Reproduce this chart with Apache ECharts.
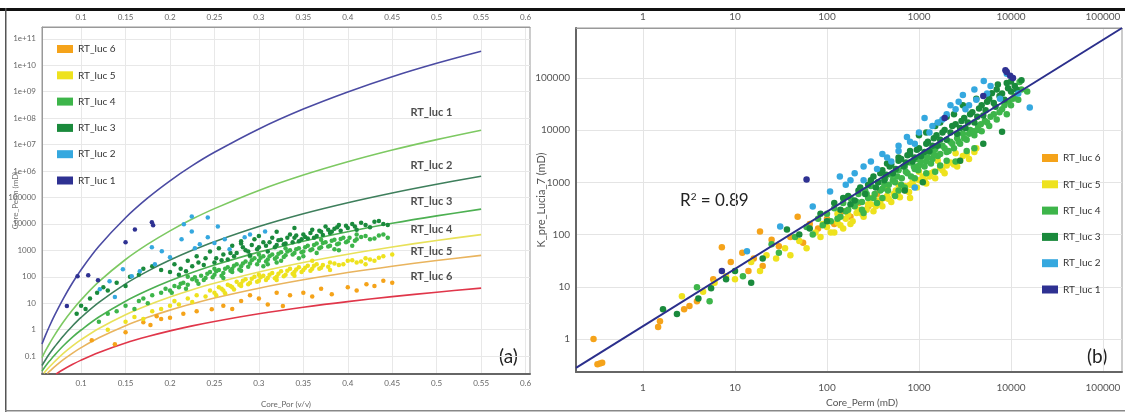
<!DOCTYPE html>
<html><head><meta charset="utf-8">
<script src="https://cdn.jsdelivr.net/npm/echarts@6/dist/echarts.min.js"></script>
<style>html,body{margin:0;padding:0;background:#fff}#c{width:1125px;height:413px}</style>
</head><body><div id="c"></div>
<script>
// ---------- Panel (a): Lucia RFN curves (porosity v/v, permeability mD) ----------
const rf05 = [[0.056,0.285],[0.06,0.62],[0.065,1.5],[0.07,3.4],[0.08,15],[0.09,57],[0.1,185],[0.12,1420],[0.15,17100],[0.175,96000],[0.2,4.26e5],[0.225,1.59e6],[0.25,5.1e6],[0.3,3.9e7],[0.35,2.2e8],[0.4,9.8e8],[0.45,3.7e9],[0.5,1.19e10],[0.55,3.4e10]];
const rf1 = [[0.056,0.088],[0.06,0.16],[0.065,0.32],[0.07,0.61],[0.08,1.94],[0.09,5.4],[0.1,13.4],[0.12,65],[0.15,450],[0.175,1710],[0.2,5460],[0.225,15200],[0.25,37800],[0.3,1.84e5],[0.35,7.0e5],[0.4,2.23e6],[0.45,6.2e6],[0.5,1.54e7],[0.55,3.5e7]];
const rf15 = [[0.056,0.044],[0.06,0.073],[0.065,0.13],[0.07,0.22],[0.08,0.58],[0.09,1.35],[0.1,2.9],[0.12,10.7],[0.15,54],[0.175,163],[0.2,427],[0.225,1000],[0.25,2130],[0.3,7940],[0.35,24200],[0.4,63200],[0.45,1.48e5],[0.5,3.16e5],[0.55,6.3e5]];
const rf2 = [[0.056,0.027],[0.06,0.042],[0.065,0.068],[0.07,0.107],[0.08,0.245],[0.09,0.51],[0.1,0.97],[0.12,3.0],[0.15,11.9],[0.175,30.7],[0.2,70],[0.225,145],[0.25,278],[0.3,855],[0.35,2220],[0.4,5060],[0.45,10500],[0.5,20100],[0.55,36100]];
const rf25 = [[0.058,0.0224],[0.06,0.027],[0.065,0.041],[0.07,0.061],[0.08,0.126],[0.09,0.237],[0.1,0.417],[0.12,1.11],[0.15,3.67],[0.175,8.4],[0.2,17.2],[0.225,32.4],[0.25,57],[0.3,152],[0.35,348],[0.4,713],[0.45,1340],[0.5,2360],[0.55,3940]];
const rf3 = [[0.062,0.022],[0.065,0.0274],[0.07,0.039],[0.08,0.073],[0.09,0.127],[0.1,0.209],[0.12,0.493],[0.15,1.41],[0.175,2.92],[0.2,5.48],[0.225,9.5],[0.25,15.7],[0.3,37],[0.35,76.6],[0.4,144],[0.45,251],[0.5,411],[0.55,645]];
const rf4 = [[0.072,0.021],[0.08,0.031],[0.09,0.0477],[0.1,0.0703],[0.12,0.137],[0.15,0.312],[0.175,0.55],[0.2,0.9],[0.225,1.39],[0.25,2.04],[0.3,3.99],[0.35,7.03],[0.4,11.5],[0.45,17.7],[0.5,26.1],[0.55,37.1]];
const curveNames = ['RF = 0.5','RF = 1','RF = 1.5','RF = 2','RF = 2.5','RF = 3','RF = 4'];

// Core samples, panel (a): [Core_Por, Core_Perm]
const a_rt1 = [[0.084,7.8],[0.096,105],[0.108,115],[0.119,74],[0.15,2000],[0.1605,6200],[0.1796,11500],[0.181,8800]];
const a_rt2 = [[0.2245,19200],[0.2425,17600],[0.2156,9600],[0.2245,5200],[0.2538,8000],[0.2425,3100],[0.1796,1300],[0.1908,920],[0.147,192],[0.157,105],[0.183,300],[0.121,34],[0.132,68],[0.2616,2600],[0.284,3100],[0.267,1090],[0.2335,1680],[0.2,545],[0.138,17],[0.166,160],[0.29,4000],[0.307,5200],[0.213,2600],[0.228,1200],[0.25,1900]];
const a_rt3 = [[0.095,4],[0.1,8],[0.105,6],[0.11,15],[0.118,25],[0.125,40],[0.13,30],[0.14,60],[0.15,45],[0.155,100],[0.165,120],[0.17,200],[0.18,250],[0.19,180],[0.2,150],[0.205,300],[0.21,120],[0.22,400],[0.225,250],[0.23,600],[0.24,500],[0.245,900],[0.25,350],[0.255,1200],[0.26,700],[0.265,450],[0.27,1500],[0.275,800],[0.28,2200],[0.285,1000],[0.29,650],[0.295,2600],[0.3,1300],[0.305,2000],[0.31,900],[0.315,3000],[0.32,1600],[0.325,2500],[0.33,1800],[0.335,4000],[0.34,3000],[0.345,2200],[0.35,4000],[0.355,2800],[0.36,6000],[0.365,3500],[0.37,5000],[0.375,8000],[0.38,4500],[0.385,6500],[0.39,9000],[0.4,7000],[0.405,10000],[0.41,6000],[0.42,9000],[0.43,12000],[0.44,10000],
  [0.212,200],[0.218,160],[0.232,350],[0.238,280],[0.252,500],[0.258,420],[0.268,800],[0.272,600],[0.282,1300],[0.288,900],[0.292,1600],[0.298,1100],[0.308,1500],[0.312,2000],[0.318,1300],[0.322,2400],[0.328,1700],[0.332,3000],[0.338,2000],[0.342,3600],[0.348,2600],[0.352,3200],[0.358,4500],[0.362,3000],[0.368,5500],[0.372,3800],[0.378,6000],[0.382,5000],[0.388,7500],[0.392,5500],[0.398,8500],[0.408,8000],[0.415,11000],[0.425,7500],[0.435,13000],[0.445,9000],[0.32,5000],[0.3,3500],[0.28,1800],[0.34,7000]];
const a_rt4 = [[0.12,2],[0.13,4],[0.14,5],[0.15,8],[0.16,6],[0.165,12],[0.17,15],[0.175,10],[0.18,20],[0.19,25],[0.195,35],[0.2,30],[0.205,45],[0.21,40],[0.215,60],[0.22,50],[0.225,80],[0.23,70],[0.235,110],[0.24,90],[0.245,150],[0.25,120],[0.255,180],[0.26,140],[0.265,230],[0.27,200],[0.275,300],[0.28,250],[0.285,380],[0.29,320],[0.295,500],[0.3,400],[0.305,600],[0.31,450],[0.315,700],[0.32,550],[0.325,850],[0.33,650],[0.335,1000],[0.34,800],[0.345,1200],[0.35,900],[0.355,1500],[0.36,1100],[0.365,1800],[0.37,1300],[0.375,2000],[0.38,1500],[0.385,2500],[0.39,1800],[0.395,3000],[0.4,2200],[0.41,2600],[0.42,3500],[0.43,2800],[0.44,4000],[0.22,100],[0.25,200],[0.27,150],[0.29,600],[0.31,300],[0.33,1200],[0.35,600],[0.37,2500],[0.39,1000],[0.41,4000],[0.26,90],[0.28,170],[0.3,700],[0.32,350],
  [0.202,25],[0.212,55],[0.218,35],[0.228,95],[0.232,55],[0.238,75],[0.242,130],[0.248,95],[0.252,160],[0.258,110],[0.262,200],[0.268,170],[0.272,260],[0.278,190],[0.282,320],[0.288,240],[0.292,420],[0.298,300],[0.302,520],[0.308,380],[0.312,600],[0.318,480],[0.322,750],[0.328,560],[0.332,900],[0.338,700],[0.342,1100],[0.348,850],[0.352,1300],[0.358,1000],[0.362,1600],[0.368,1200],[0.372,1900],[0.378,1400],[0.382,2300],[0.388,1700],[0.392,2700],[0.398,2000],[0.402,3000],[0.408,2300],[0.415,3200],[0.425,2600],[0.435,3600],[0.445,3000],[0.305,250],[0.325,400],[0.345,500],[0.365,800],[0.385,1100],[0.405,1500]];
const a_rt5 = [[0.13,1],[0.15,2],[0.16,3],[0.17,2.5],[0.18,5],[0.19,6],[0.2,8],[0.205,12],[0.21,9],[0.22,15],[0.225,11],[0.23,20],[0.24,18],[0.245,30],[0.25,25],[0.255,40],[0.26,30],[0.265,50],[0.27,40],[0.275,65],[0.28,55],[0.285,80],[0.29,60],[0.295,100],[0.3,70],[0.305,110],[0.31,90],[0.315,140],[0.32,100],[0.325,160],[0.33,120],[0.335,200],[0.34,150],[0.345,230],[0.35,180],[0.355,260],[0.36,200],[0.365,300],[0.37,220],[0.38,350],[0.39,280],[0.4,400],[0.41,350],[0.42,500],[0.43,400],[0.44,600],[0.45,700],[0.28,45],[0.3,120],[0.32,75],[0.34,110],[0.36,400],[0.38,180],[0.42,300],
  [0.252,20],[0.258,35],[0.262,24],[0.268,45],[0.272,33],[0.278,50],[0.282,70],[0.288,52],[0.292,85],[0.298,65],[0.302,95],[0.308,75],[0.312,120],[0.318,88],[0.322,130],[0.328,105],[0.332,170],[0.338,130],[0.342,190],[0.348,150],[0.352,220],[0.358,170],[0.362,260],[0.368,200],[0.372,280],[0.378,240],[0.385,320],[0.395,300],[0.405,420],[0.415,380],[0.425,450],[0.435,520]];
const a_rt6 = [[0.112,0.4],[0.138,0.28],[0.15,0.8],[0.17,1.9],[0.178,1.5],[0.185,3.2],[0.19,2.5],[0.2,2.8],[0.215,4],[0.23,5],[0.247,5.9],[0.26,8],[0.28,12],[0.3,15],[0.31,9],[0.327,7.8],[0.335,20],[0.35,25],[0.36,18],[0.382,22],[0.4,40],[0.41,30],[0.421,52],[0.43,45],[0.44,70],[0.45,60],[0.37,35],[0.32,25],[0.29,20],[0.27,6]];

// Rock-type annotations inside panel (a) (data coordinates)
const rtLabelNames = ['RT_luc 1','RT_luc 2','RT_luc 3','RT_luc 4','RT_luc 5','RT_luc 6'];
const rtLabelPos = [[0.494,1.6e8],[0.494,1.6e6],[0.494,7.1e4],[0.494,6200],[0.494,920],[0.494,105]];

// ---------- Panel (b): Core_Perm vs K_pre_Lucia_7 ----------
const b_rt6 = [[0.29,1.0],[0.32,0.33],[0.34,0.34],[0.36,0.35],[1.46,1.7],[1.53,2.2],[2.8,3.7],[3.2,4.3],[3.86,5.3],[5.8,14],[7.2,57],[9,30],[12,45],[14,20],[18.7,115],[16,35],[20,25],[25,80],[30,60],[40,90],[48,220],[55,70],[65,160],[80,130],[100,200],[120,160],[150,280],[180,220],[220,400],[280,350],[350,600],[450,500]];
const b_rt5 = [[2.65,6.6],[4.5,8],[6,12],[8,16],[10,14],[15,30],[18.7,20],[22,40],[28,35],[35,55],[40,40],[50,75],[60,55],[75,110],[85,90],[100,140],[110,110],[130,170],[150,130],[170,240],[190,180],[220,300],[250,220],[280,380],[320,280],[360,450],[400,350],[450,550],[500,420],[560,700],[620,520],[700,850],[780,650],[850,1000],[950,800],[1100,1300],[1200,950],[1350,1500],[1500,1200],[1700,1900],[1900,1500],[2200,2400],[2600,2000],[3000,3200],[3500,2800],[4200,4500],[300,500],[200,350],[130,250],[90,160],[600,900],[1000,1600],[800,500],[1600,2600],[2500,3600],[450,750],
  [120,110],[140,150],[160,200],[180,160],[210,260],[240,250],[270,300],[300,380],[340,350],[380,420],[420,500],[470,480],[530,600],[590,650],[650,750],[720,700],[800,900],[880,850],[1000,1100],[1150,1100],[1300,1300],[1450,1600],[1800,1700],[2000,2100],[2400,2200],[2800,2600],[3300,3500],[4000,3800]];
const b_rt4 = [[3.86,9.8],[5.3,5.3],[12.2,16],[25,65],[30,45],[45,90],[60,140],[70,100],[80,200],[90,150],[100,250],[110,180],[120,320],[140,220],[150,400],[160,280],[180,500],[200,350],[220,600],[240,420],[260,700],[280,500],[300,850],[330,600],[360,1000],[400,750],[430,1200],[470,900],[500,1400],[550,1000],[600,1700],[650,1200],[700,2000],[750,1500],[800,2400],[900,1800],[950,2800],[1000,2100],[1100,3200],[1200,2500],[1300,3800],[1400,2800],[1500,4300],[1600,3200],[1800,5000],[2000,3800],[2200,6000],[2400,4500],[2600,7000],[2800,5500],[3000,8500],[3300,6500],[3600,10000],[4000,8000],[4400,12000],[4800,9500],[5200,15000],[5800,12000],[6500,20000],[7000,16000],[8000,25000],[9000,20000],[10000,30000],[11000,45000],[12400,83000],[13000,60000],[15000,55000],[350,400],[700,800],[1500,1600],[2500,2500],[4000,4500],[250,260],[550,550],
  [130,200],[170,300],[210,420],[240,300],[270,600],[320,500],[380,700],[420,900],[460,700],[520,1100],[580,1300],[640,900],[720,1600],[820,1300],[880,2000],[980,1700],[1050,2500],[1150,2000],[1250,3000],[1350,2300],[1450,3500],[1700,3500],[1900,4500],[2100,4000],[2300,5500],[2700,6000],[3100,7000],[3500,8500],[3900,9500],[4300,10000],[4700,13000],[5500,14000],[6000,18000],[7500,22000],[8500,30000],[9500,35000],[10500,40000],[12000,38000],[400,500],[600,700],[900,1200],[1200,1500],[1700,2100],[2000,2600],[3300,4000]];
const b_rt3 = [[1.65,3.7],[2.34,3.0],[4,6],[5.5,9.4],[8,14],[10,20],[15,12],[20,35],[36.7,125],[50,100],[65,130],[85,250],[100,180],[120,400],[140,300],[170,550],[200,450],[230,800],[260,600],[300,1100],[340,800],[380,1500],[420,1100],[480,2000],[520,1500],[600,2600],[680,2000],[750,3300],[850,2500],[950,4200],[1050,3200],[1200,5500],[1300,4000],[1450,7000],[1600,5000],[1800,9000],[2000,6500],[2300,12000],[2600,8500],[2900,15000],[3200,11000],[3600,20000],[4000,14000],[4500,26000],[5000,19000],[5500,35000],[6200,51000],[6800,28000],[7500,45000],[8500,38000],[9300,63000],[10000,55000],[11000,70000],[9000,80000],[13000,90000],[3000,30000],[2000,18000],[1500,12000],[1000,8000],[4200,40000],[800,4000],[600,3000],[450,2300],[700,700],[1100,1000],[2800,2600],[5000,5500],[8000,9300],
  [150,500],[180,380],[220,700],[280,900],[320,1300],[360,1000],[400,1700],[440,1400],[500,2200],[560,1800],[640,2800],[720,2400],[800,3500],[900,3000],[1000,4500],[1150,3800],[1250,6000],[1400,5000],[1550,8000],[1700,6500],[1900,10000],[2200,9000],[2500,13000],[2800,11000],[3100,17000],[3400,14000],[3800,22000],[4300,18000],[4800,30000],[5300,24000],[5800,40000],[6500,33000],[7000,60000],[8000,50000],[10000,85000],[11500,60000],[7200,75000],[2400,20000],[1700,14000],[1200,9000]];
const b_rt2 = [[13.5,48],[31,143],[70,345],[108,670],[138,1300],[160,900],[200,1500],[250,1100],[300,2500],[400,3500],[500,2500],[600,5000],[740,7400],[900,5500],[1150,17000],[1300,9000],[1600,14000],[2000,20000],[2500,25000],[3000,47000],[3500,30000],[4200,38000],[5060,87000],[6000,70000],[7600,40000],[9000,120000],[12000,50000],[16000,27000],[900,800],[350,1800],
  [450,3000],[800,6000],[1000,9000],[1400,12000],[1800,16000],[2200,30000],[2700,35000],[3200,25000],[4000,60000],[5500,50000],[600,4000],[250,2000],[180,1100]];
const b_rt1 = [[7.2,20],[60,1130],[1900,17000],[9000,130000],[9800,110000],[10500,99000],[8700,140000],[5000,45000]];
const fitLine = [[0.187,0.28],[161000,900000]];
const r2Text = '0.89';

// ---------- tick labels ----------
const xTicksA = [0.1,0.15,0.2,0.25,0.3,0.35,0.4,0.45,0.5,0.55,0.6];
const yTicksA = [0.1,1,10,100,1000,10000,100000,1e6,1e7,1e8,1e9,1e10,1e11];
const xTicksB = [1,10,100,1000,10000,100000];
const yTicksB = [1,10,100,1000,10000,100000];

const rtNames = ['RT_luc 6','RT_luc 5','RT_luc 4','RT_luc 3','RT_luc 2','RT_luc 1'];
const rtColors = ['#F5A31A','#EEE21E','#3DB54A','#1A8A3C','#35A8DF','#2E3192'];
const curveColors = ['#4B4BA3','#7DC962','#3E7F5C','#4DB052','#E8E15A','#E9B45E','#E0364A'];

function fmtA(v){ const e = Math.round(Math.log10(v)); if (e >= 6) return '1e+' + (e < 10 ? '0' : '') + e; return e >= 0 ? String(Math.round(Math.pow(10,e))) : String(+Math.pow(10,e).toFixed(-e)); }
function fmtX(v){ return String(+(+v).toFixed(2)); }
function fmtB(v){ return String(Math.round(v)); }

const chart = echarts.init(document.getElementById('c'), null, {renderer:'canvas'});
const font = 'Lato, "Open Sans", sans-serif';
const tickLbl = {fontSize:8, color:'#666', fontFamily:font};
const tickLblB = {fontSize:10, color:'#555', fontFamily:font};

const curves = [rf05, rf1, rf15, rf2, rf25, rf3, rf4];
const series = [];
curves.forEach((c, i) => {
  series.push({
    type:'line', xAxisIndex:0, yAxisIndex:0, smooth:0.35, showSymbol:false, symbol:'none',
    lineStyle:{color:curveColors[i], width:1.6}, silent:true, z:2,
    data: c.map((p, j) => j === c.length - 1 ? {value:p, label:{show:true, position:'top', distance:4, formatter:curveNames[i], fontSize:7, color:'#666', fontFamily:font}} : p)
  });
});
const aSets = [a_rt6, a_rt5, a_rt4, a_rt3, a_rt2, a_rt1];
const bSets = [b_rt6, b_rt5, b_rt4, b_rt3, b_rt2, b_rt1];
aSets.forEach((d, i) => series.push({type:'scatter', name:rtNames[i], xAxisIndex:0, yAxisIndex:0, symbolSize:4.5, itemStyle:{color:rtColors[i], opacity:1}, data:d, z:3}));
bSets.forEach((d, i) => series.push({type:'scatter', name:rtNames[i], xAxisIndex:2, yAxisIndex:1, symbolSize:6.5, itemStyle:{color:rtColors[i], opacity:1}, data:d, z:3}));
series.push({type:'scatter', xAxisIndex:0, yAxisIndex:0, symbolSize:0, silent:true, z:5,
  data: rtLabelPos.map((p, i) => ({value:p, name:rtLabelNames[i]})),
  label:{show:true, position:'inside', formatter:'{b}', fontSize:11, fontWeight:'bold', color:'#222', fontFamily:font}});
series.push({type:'line', xAxisIndex:2, yAxisIndex:1, showSymbol:false, symbol:'none', silent:true, z:4,
  lineStyle:{color:'#2B2F8C', width:2}, data:fitLine});

const option = {
  backgroundColor:'#fff',
  animation:false,
  grid:[
    {left:42, right:595, top:27, bottom:38, show:true, borderColor:'#999', borderWidth:1},
    {left:576, right:3, top:28, bottom:40, show:true, borderColor:'#999', borderWidth:1}
  ],
  xAxis:[
    {type:'value', gridIndex:0, min:0.056, max:0.605, position:'bottom',
     axisLine:{show:true, lineStyle:{color:'#666', width:2}}, axisTick:{show:false, customValues:xTicksA},
     axisLabel:Object.assign({customValues:xTicksA, formatter:fmtX, margin:5}, tickLbl),
     splitLine:{show:true, lineStyle:{color:'#e8e8e8'}},
     name:'Core_Por (v/v)', nameLocation:'middle', nameGap:26, nameMoveOverlap:false, nameTextStyle:{fontSize:8, color:'#666', fontFamily:font}},
    {type:'value', gridIndex:0, min:0.056, max:0.605, position:'top',
     axisLine:{show:true, lineStyle:{color:'#999'}}, axisTick:{show:false, customValues:xTicksA},
     axisLabel:Object.assign({customValues:xTicksA, formatter:fmtX, margin:6}, tickLbl),
     splitLine:{show:false}},
    {type:'log', logBase:10, gridIndex:1, min:0.187, max:161000, position:'bottom',
     axisLine:{show:true, lineStyle:{color:'#666', width:2}}, axisTick:{show:false, customValues:xTicksB},
     axisLabel:Object.assign({customValues:xTicksB, formatter:fmtB, margin:11}, tickLblB),
     splitLine:{show:true, lineStyle:{color:'#e4e4e4'}},
     name:'Core_Perm (mD)', nameLocation:'middle', nameGap:26, nameMoveOverlap:false, nameTextStyle:{fontSize:10, color:'#555', fontFamily:font, padding:[0,0,0,26]}},
    {type:'log', logBase:10, gridIndex:1, min:0.187, max:161000, position:'top',
     axisLine:{show:true, lineStyle:{color:'#999'}}, axisTick:{show:false, customValues:xTicksB},
     axisLabel:Object.assign({customValues:xTicksB, formatter:fmtB, margin:6}, tickLblB),
     splitLine:{show:false}}
  ],
  yAxis:[
    {type:'log', logBase:10, gridIndex:0, min:0.021, max:2.8e11,
     axisLine:{show:true, lineStyle:{color:'#999'}}, axisTick:{show:false, customValues:yTicksA},
     axisLabel:Object.assign({customValues:yTicksA, formatter:fmtA, margin:6}, tickLbl),
     splitLine:{show:true, lineStyle:{color:'#e8e8e8'}},
     name:'Core_Perm (mD)', nameLocation:'middle', nameGap:23, nameMoveOverlap:false, nameTextStyle:{fontSize:8, color:'#777', fontFamily:font}},
    {type:'log', logBase:10, gridIndex:1, min:0.234, max:900000,
     axisLine:{show:true, lineStyle:{color:'#666', width:2}}, axisTick:{show:false, customValues:yTicksB},
     axisLabel:Object.assign({customValues:yTicksB, formatter:fmtB, margin:6}, tickLblB),
     splitLine:{show:true, lineStyle:{color:'#e4e4e4'}},
     name:'K_pre_Lucia_7 (mD)', nameLocation:'middle', nameGap:29, nameMoveOverlap:false, nameTextStyle:{fontSize:11, color:'#555', fontFamily:font}}
  ],
  legend:[
    {data:rtNames, orient:'vertical', left:52, top:39, itemWidth:16, itemHeight:8, itemGap:16.3, icon:'rect',
     textStyle:{fontSize:10, color:'#333', fontFamily:font}, selectedMode:false},
    {data:rtNames, orient:'vertical', left:1037, top:148, itemWidth:16, itemHeight:8, itemGap:16.3, icon:'rect',
     textStyle:{fontSize:10, color:'#333', fontFamily:font}, selectedMode:false}
  ],
  graphic:[
    {type:'rect', shape:{x:0, y:8, width:1125, height:3}, style:{fill:'#111'}, silent:true},
    {type:'rect', shape:{x:5, y:8, width:1.5, height:404}, style:{fill:'#555'}, silent:true},
    {type:'rect', shape:{x:5, y:410, width:1120, height:1.5}, style:{fill:'#888'}, silent:true},
    {type:'text', left:680, top:192, style:{text:'R{sup|2} = ' + r2Text, fontSize:17, fill:'#222', fontFamily:font,
      rich:{sup:{fontSize:10, verticalAlign:'top', padding:[0,0,8,0], fill:'#222', fontFamily:font}}}},
    {type:'text', left:499, top:347, style:{text:'(a)', fontSize:19, fill:'#222', fontFamily:font}},
    {type:'text', left:1087, top:347, style:{text:'(b)', fontSize:19, fill:'#222', fontFamily:font}}
  ],
  series: series
};
chart.setOption(option);
</script></body></html>
